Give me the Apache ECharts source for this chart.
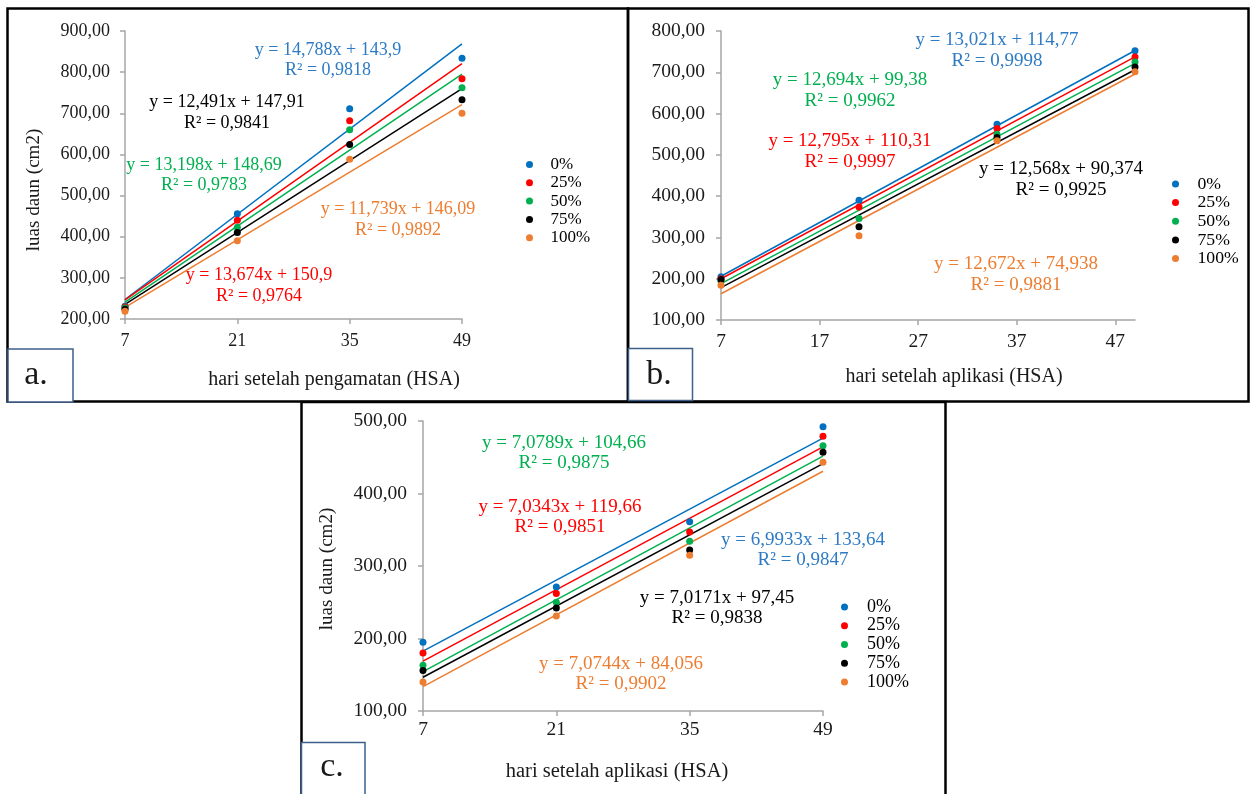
<!DOCTYPE html>
<html>
<head>
<meta charset="utf-8">
<title>luas daun</title>
<script src="https://cdn.jsdelivr.net/npm/echarts@6/dist/echarts.min.js"></script>
<style>
  html, body { margin: 0; padding: 0; background: #fff; }
  #chart { width: 1250px; height: 794px; }
</style>
</head>
<body>
<div id="chart"></div>
<script>
// perlakuan (legend)
const seriesNames = ['0%', '25%', '50%', '75%', '100%'];

// panel a - hari setelah pengamatan
const daysA = [7, 21, 35, 49];
const luasA = [
  [231, 456, 711, 834],
  [229, 440, 682, 784],
  [227, 423, 660, 762],
  [224, 410, 624, 733],
  [219, 390, 588, 700]
];
const slopeA = [14.788, 13.674, 13.198, 12.491, 11.739];
const interceptA = [143.9, 150.9, 148.69, 147.91, 146.09];
const r2A = [0.9818, 0.9764, 0.9783, 0.9841, 0.9892];
const xTicksA = [7, 21, 35, 49];

// panel b - hari setelah aplikasi
const daysB = [7, 21, 35, 49];
const luasB = [
  [205, 390, 574, 752],
  [200, 374, 564, 737],
  [194, 346, 550, 725],
  [198, 326, 542, 713],
  [184, 304, 534, 701]
];
const slopeB = [13.021, 12.795, 12.694, 12.568, 12.672];
const interceptB = [114.77, 110.31, 99.38, 90.374, 74.938];
const r2B = [0.9998, 0.9997, 0.9962, 0.9925, 0.9881];
const xTicksB = [7, 17, 27, 37, 47];

// panel c - hari setelah aplikasi
const daysC = [7, 21, 35, 49];
const luasC = [
  [195, 271, 361, 492],
  [180, 262, 347, 479],
  [163, 250, 334, 466],
  [156, 242, 322, 457],
  [140, 231, 315, 443]
];
const slopeC = [6.9933, 7.0343, 7.0789, 7.0171, 7.0744];
const interceptC = [133.64, 119.66, 104.66, 97.45, 84.056];
const r2C = [0.9847, 0.9851, 0.9875, 0.9838, 0.9902];
const xTicksC = [7, 21, 35, 49];

const colors = ['#0070C0', '#FF0000', '#00B050', '#000000', '#ED7D31'];
const textColors = ['#2E7BC4', '#FF0000', '#00B050', '#000000', '#ED7D31'];
const serif = '"Liberation Serif", "Times New Roman", serif';

// posisi label persamaan (center x, center y) per panel
const eqPosA = [[328, 60.5], [259, 286], [204, 175.5], [227, 113], [398, 220]];
const eqPosB = [[997, 51], [850, 152], [850, 91], [1061, 180], [1016, 275]];
const eqPosC = [[803, 550], [560, 516.7], [564, 453.3], [717, 608.3], [621, 674.5]];

const chart = echarts.init(document.getElementById('chart'), null, { renderer: 'canvas' });

function dec(v) {
  return String(v).replace('.', ',');
}

function buildSeries(p, days, values, slopes, intercepts) {
  const out = [];
  values.forEach((vals, i) => {
    out.push({
      name: seriesNames[i] + ' (linear)',
      type: 'line',
      xAxisIndex: p,
      yAxisIndex: p,
      showSymbol: false,
      symbol: 'none',
      silent: true,
      z: 2,
      itemStyle: { color: colors[i] },
      lineStyle: { color: colors[i], width: 1.5 },
      data: [days[0], days[days.length - 1]].map(x => [x, slopes[i] * x + intercepts[i]])
    });
  });
  values.forEach((vals, i) => {
    out.push({
      name: seriesNames[i],
      type: 'scatter',
      xAxisIndex: p,
      yAxisIndex: p,
      symbolSize: 7,
      z: 3,
      itemStyle: { color: colors[i], opacity: 1 },
      data: days.map((d, k) => [d, vals[k]])
    });
  });
  return out;
}

function eqTexts(pos, slopes, intercepts, r2, size, lh) {
  return pos.map((p, i) => ({
    type: 'text',
    x: p[0],
    y: p[1],
    silent: true,
    style: {
      text: 'y = ' + dec(slopes[i]) + 'x + ' + dec(intercepts[i]) + '\nR² = ' + dec(r2[i]),
      fill: textColors[i],
      fontSize: size,
      fontFamily: serif,
      lineHeight: lh,
      align: 'center',
      verticalAlign: 'middle'
    }
  }));
}

function xAxisOf(p, ticks, fontSize, margin) {
  return {
    type: 'value',
    gridIndex: p,
    min: 7,
    max: 49,
    splitLine: { show: false },
    axisLine: { show: true, lineStyle: { color: '#a6a6a6', width: 1.5 } },
    axisTick: { show: true, length: 5, lineStyle: { color: '#a6a6a6', width: 1.5 }, customValues: ticks },
    axisLabel: { fontSize: fontSize, fontFamily: serif, color: '#1a1a1a', margin: margin, customValues: ticks }
  };
}

function yAxisOf(p, min, max, fontSize, margin) {
  return {
    type: 'value',
    gridIndex: p,
    min: min,
    max: max,
    interval: 100,
    splitLine: { show: false },
    axisLine: { show: true, lineStyle: { color: '#a6a6a6', width: 1.5 } },
    axisTick: { show: true, length: 5, lineStyle: { color: '#a6a6a6', width: 1.5 } },
    axisLabel: {
      fontSize: fontSize, fontFamily: serif, color: '#1a1a1a', margin: margin,
      formatter: v => v.toFixed(2).replace('.', ',')
    }
  };
}

function legendOf(left, top, iconW, fontSize, lh) {
  return {
    data: seriesNames,
    orient: 'vertical',
    left: left,
    top: top,
    padding: 0,
    icon: 'circle',
    itemWidth: iconW,
    itemHeight: 7,
    itemGap: 0,
    textStyle: { fontSize: fontSize, fontFamily: serif, color: '#000', lineHeight: lh, padding: 0 }
  };
}

function plainText(x, y, text, size, rot) {
  return {
    type: 'text', x: x, y: y, rotation: rot || 0, silent: true,
    style: { text: text, fontSize: size, fontFamily: serif, fill: '#1a1a1a', align: 'center', verticalAlign: 'middle' }
  };
}

function frame(x, y, w, h, color, lw, z) {
  return {
    type: 'rect', z: z, silent: true,
    shape: { x: x, y: y, width: w, height: h },
    style: { fill: color === '#000' ? 'none' : '#fff', stroke: color, lineWidth: lw }
  };
}

const graphics = [
  frame(7.5, 8.5, 620.5, 393, '#000', 2.5, 10),
  frame(628, 8.5, 620.5, 393, '#000', 2.5, 10),
  frame(301.5, 402, 644, 400, '#000', 2.5, 10),
  frame(8, 349, 65, 53, '#3E5F8A', 1.5, 11),
  frame(628.5, 348.5, 64, 52, '#3E5F8A', 1.5, 11),
  frame(301.5, 742.5, 63.5, 60, '#3E5F8A', 1.5, 11),
  Object.assign(plainText(36, 375.5, 'a.', 34), { z: 12 }),
  Object.assign(plainText(659, 375.5, 'b.', 34), { z: 12 }),
  Object.assign(plainText(332, 767.5, 'c.', 34), { z: 12 }),
  plainText(334, 380, 'hari setelah pengamatan (HSA)', 20),
  plainText(954, 377, 'hari setelah aplikasi (HSA)', 20),
  plainText(617, 771.5, 'hari setelah aplikasi (HSA)', 20.5),
  plainText(34, 190, 'luas daun (cm2)', 19, Math.PI / 2),
  plainText(327, 569, 'luas daun (cm2)', 19, Math.PI / 2)
].concat(
  eqTexts(eqPosA, slopeA, interceptA, r2A, 18, 20.5),
  eqTexts(eqPosB, slopeB, interceptB, r2B, 19, 21),
  eqTexts(eqPosC, slopeC, interceptC, r2C, 19, 20)
);

chart.setOption({
  animation: false,
  backgroundColor: '#fff',
  grid: [
    { left: 125, top: 31, width: 337, height: 288, outerBoundsMode: 'none' },
    { left: 721, top: 31, width: 414, height: 289, outerBoundsMode: 'none' },
    { left: 423, top: 421, width: 400, height: 290, outerBoundsMode: 'none' }
  ],
  xAxis: [
    xAxisOf(0, xTicksA, 18, 13),
    xAxisOf(1, xTicksB, 19.5, 11.5),
    xAxisOf(2, xTicksC, 19.5, 8.5)
  ],
  yAxis: [
    yAxisOf(0, 200, 900, 18, 15),
    yAxisOf(1, 100, 800, 19.5, 16),
    yAxisOf(2, 100, 500, 19.5, 16)
  ],
  legend: [
    legendOf(526, 155.2, 32, 17, 18.35),
    legendOf(1172, 174.6, 34, 17.7, 18.65),
    legendOf(841, 597.6, 34.8, 18, 18.75)
  ],
  graphic: graphics,
  series: [].concat(
    buildSeries(0, daysA, luasA, slopeA, interceptA),
    buildSeries(1, daysB, luasB, slopeB, interceptB),
    buildSeries(2, daysC, luasC, slopeC, interceptC)
  )
});
</script>
</body>
</html>
